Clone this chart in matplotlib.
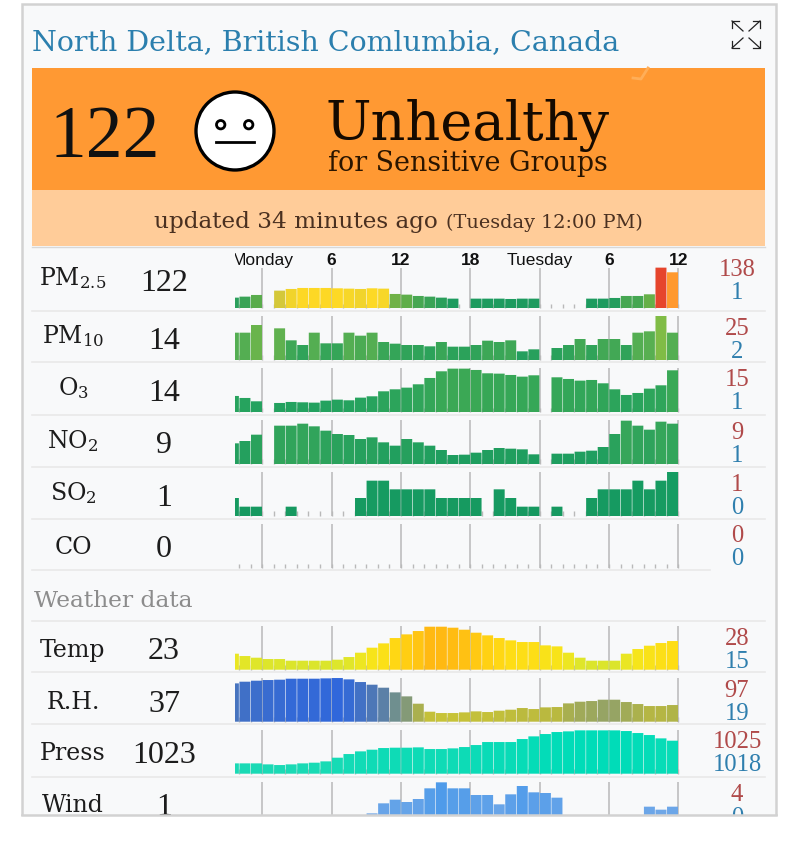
import numpy as np
import matplotlib
matplotlib.use('Agg')
import matplotlib.pyplot as plt
from matplotlib.colors import LinearSegmentedColormap
from matplotlib.patches import Rectangle, Circle

W, H = 800, 846
WORDS = 'DejaVu Serif'
DIGITS = 'Liberation Serif'
plt.rcParams['font.family'] = WORDS
plt.rcParams['mathtext.fontset'] = 'dejavuserif'

# hour each bar ends on, 0 = Monday midnight, 36 = Tuesday noon
hours = np.arange(-2, 37)
N = None

# bar heights (132 = full row height)
pm25 = [32, 35, 40, N, 53, 58, 61, 61, 61, 60, 59, 58, 60, 59, 43, 41, 37, 35, 32, 29, N,
        29, 29, 29, 28, 29, 29, N, N, N, N, 29, 29, 31, 37, 37, 42, 122, 108]
pm10 = [82, 82, 105, N, 95, 59, 45, 82, 50, 50, 82, 73, 82, 54, 49, 45, 45, 41, 54, 40, 40,
        45, 58, 54, 59, 26, 32, N, 36, 45, 63, 45, 63, 63, 45, 82, 86, 132, 82]
o3 = [49, 43, 33, N, 28, 31, 30, 29, 35, 38, 36, 44, 48, 63, 69, 74, 84, 103, 123, 131, 131,
      127, 117, 116, 112, 107, 111, N, 105, 100, 95, 97, 87, 69, 52, 58, 71, 81, 126]
no2 = [62, 69, 88, N, 115, 115, 121, 113, 100, 90, 87, 75, 80, 65, 55, 75, 65, 55, 42, 27, 28,
       34, 42, 48, 46, 44, 29, N, 31, 31, 37, 40, 51, 90, 130, 115, 103, 127, 121]
so2 = [54, 28, 28, N, N, 28, N, N, N, N, N, 54, 106, 106, 80, 80, 80, 80, 54, 54, 54,
       54, N, 80, 54, 28, 28, N, 28, N, N, 54, 80, 80, 80, 106, 80, 106, 132]
co = [N] * 39
temp = [48, 41, 36, 32, 32, 27, 27, 27, 27, 30, 38, 51, 66, 79, 95, 106, 116, 129, 129, 126, 120,
        111, 103, 95, 88, 83, 83, 73, 70, 51, 36, 27, 27, 27, 48, 62, 72, 80, 86]
rh = [115, 120, 123, 125, 126, 129, 129, 129, 130, 131, 127, 119, 111, 102, 88, 76, 54, 30, 26, 26, 28,
      31, 29, 33, 36, 41, 38, 43, 44, 55, 60, 62, 66, 66, 59, 53, 47, 47, 50]
press = [31, 31, 31, 28, 26, 28, 31, 33, 37, 48, 59, 67, 72, 77, 78, 78, 79, 74, 74, 76, 80,
         86, 95, 95, 95, 104, 112, 119, 125, 127, 130, 130, 130, 130, 128, 122, 116, 106, 99]
wind = [N, N, N, N, N, N, N, N, N, N, N, N, 38, 68, 79, 72, 81, 113, 131, 113, 113,
        93, 93, 65, 95, 120, 101, 99, 85, N, N, N, N, N, N, N, 58, 49, 58]

names = ['PM$_{2.5}$', 'PM$_{10}$', 'O$_3$', 'NO$_2$', 'SO$_2$', 'CO', 'Temp', 'R.H.', 'Press', 'Wind']
current = ['122', '14', '14', '9', '1', '0', '23', '37', '1023', '1']
highs = ['138', '25', '15', '9', '1', '0', '28', '97', '1025', '4']
lows = ['1', '2', '1', '1', '0', '0', '15', '19', '1018', '0']
series = [pm25, pm10, o3, no2, so2, co, temp, rh, press, wind]

# colour along the bar height, one ramp per row
ramps = [
    [(0, '#159a62'), (30, '#1d9b5f'), (42, '#66b048'), (52, '#cfc63c'), (60, '#fdd925'), (108, '#ff9a2e'), (122, '#e6452c'), (132, '#e6452c')],
    [(0, '#159a62'), (40, '#2ba25a'), (90, '#5cb050'), (132, '#80bc46')],
    [(0, '#1c9f62'), (60, '#2aa45c'), (132, '#3ba855')],
    [(0, '#1a9c60'), (60, '#229f5e'), (132, '#36a65a')],
    [(0, '#16985f'), (132, '#169c62')],
    [(0, '#16985f'), (132, '#169c62')],
    [(0, '#d0e430'), (36, '#dfe62a'), (60, '#f5e61c'), (90, '#ffdc14'), (132, '#ffb712')],
    [(0, '#dcd12c'), (45, '#b8b840'), (66, '#96a463'), (88, '#6f8f8f'), (110, '#4f78b5'), (132, '#2f67dc')],
    [(0, '#22dab4'), (132, '#00dcb8')],
    [(0, '#82aee6'), (132, '#4f9bea')],
]

# row baselines and grid heights in picture pixels
baselines = [308.3, 360, 412.3, 464, 516, 568.3, 669.7, 721.7, 773.7, 826]
grid_tops = [122, 132, 132, 132, 132, 132, 132, 132, 132, 132]
label_base = [285, 343, 395, 448, 500, 554, 657, 709, 760, 812]
value_base = [291, 349, 401, 453, 506, 557, 659, 712, 763, 815]
high_base = [276, 335, 386, 439, 491, 542, 645, 697, 748, 801]
low_base = [299, 358, 409, 462, 514, 565, 668, 720, 771, 824]
dividers = [311, 362.3, 415, 466.7, 519, 620.7, 672.3, 724.3, 776.7]

time_labels = [(0, 'Monday', 'normal'), (6, '6', 'bold'), (12, '12', 'bold'), (18, '18', 'bold'),
               (24, 'Tuesday', 'normal'), (30, '6', 'bold'), (36, '12', 'bold')]

fig = plt.figure(figsize=(W / 100, H / 100), dpi=100, facecolor='white')

# background layer in pixel coordinates
bg = fig.add_axes([0, 0, 1, 1])
bg.set_xlim(0, W)
bg.set_ylim(H, 0)
bg.axis('off')
bg.add_patch(Rectangle((22, 4), 754, 830, fc='#f8f9fa', ec='#d2d2d2', lw=1.8))
bg.add_patch(Rectangle((32, 68), 733, 122.5, fc='#ff9933', ec='none'))
bg.add_patch(Rectangle((32, 190.5), 733, 56, fc='#ffcc99', ec='none'))
bg.plot([32, 765], [247, 247], color='#d8d8d8', lw=1)
bg.plot([633, 641, 648], [78, 79, 68], color='#ffae58', lw=2)

bg.text(32, 50, 'North Delta, British Comlumbia, Canada', color='#2b7fae', fontsize=20.5)
bg.text(50, 157, '122', color='#111111', fontsize=53, family=DIGITS)
bg.text(326, 140, 'Unhealthy', color='#150a00', fontsize=39)
bg.text(328, 171, 'for Sensitive Groups', color='#2a1500', fontsize=19.4)
bg.text(154, 228, 'updated 34 minutes ago', color='#4a3020', fontsize=16.7)
bg.text(446, 228, '(Tuesday 12:00 PM)', color='#4a3020', fontsize=13.9)

# face
bg.add_patch(Circle((235, 131), 39, fc='white', ec='black', lw=2.4))
for ex in (220.7, 248.7):
    bg.add_patch(Circle((ex, 124.7), 4.2, fc='white', ec='black', lw=2))
bg.plot([216, 254], [141.7, 141.7], color='black', lw=2)

# expand icon
for cx, cy, dx, dy in [(732, 21, 1, 1), (760, 21, -1, 1), (732, 48, 1, -1), (760, 48, -1, -1)]:
    bg.plot([cx, cx + 11 * dx], [cy, cy + 10 * dy], color='#222222', lw=0.9)
    bg.plot([cx + 7 * dx, cx, cx], [cy, cy, cy + 7 * dy], color='#222222', lw=0.9)

for y in dividers:
    bg.plot([32, 765], [y, y], color='#e9e9e9', lw=1.2)
bg.plot([32, 710], [570, 570], color='#e9e9e9', lw=1.2)

bg.text(34, 607, 'Weather data', color='#8c8c8c', fontsize=16.8)

for i in range(len(names)):
    bg.text(73, label_base[i], names[i], color='#1c1c1c', fontsize=17, ha='center')
    bg.text(164, value_base[i], current[i], color='#1c1c1c', fontsize=23, ha='center', family=DIGITS)
    bg.text(737, high_base[i], highs[i], color='#b04a4a', fontsize=17.7, ha='center', family=DIGITS)
    bg.text(737, low_base[i], lows[i], color='#2f7fae', fontsize=17.7, ha='center', family=DIGITS)

# bar rows
for i, vals in enumerate(series):
    base = baselines[i]
    ax = fig.add_axes([235 / W, 1 - base / H, 443.3 / W, 44 / H])
    ax.set_xlim(-2.36, 36)
    ax.set_ylim(0, 132)
    ax.axis('off')

    cmap = LinearSegmentedColormap.from_list('row', [(v / 132, c) for v, c in ramps[i]])
    y = np.array(vals, dtype=float)
    colors = cmap(np.nan_to_num(y) / 132)

    major = hours[hours % 6 == 0]
    ax.vlines(major, 0, grid_tops[i], color='#b9b9b9', lw=1.1, clip_on=False, zorder=1)
    ax.vlines(hours, 0, 14, color='#b9b9b9', lw=1, clip_on=False, zorder=1)
    ax.bar(hours - 0.5, y, width=0.95, color=colors, zorder=2, snap=False)

    if i == 0:
        clip = Rectangle((0, 0), 1.1, 1.6, transform=ax.transAxes)
        for hr, txt, weight in time_labels:
            t = ax.text(hr, 143, txt, fontsize=12.5, fontweight=weight, family='Liberation Sans',
                        ha='center', va='center', color='#111111', clip_on=True)
            t.set_clip_path(clip)

# everything below the card bottom gets covered
top = fig.add_axes([0, 0, 1, 1], zorder=10)
top.set_xlim(0, W)
top.set_ylim(H, 0)
top.axis('off')
top.add_patch(Rectangle((0, 816), W, 30, fc='white', ec='none'))
top.plot([22, 776], [815.5, 815.5], color='#d2d2d2', lw=1.8)

fig.savefig('out.png', dpi=100)
